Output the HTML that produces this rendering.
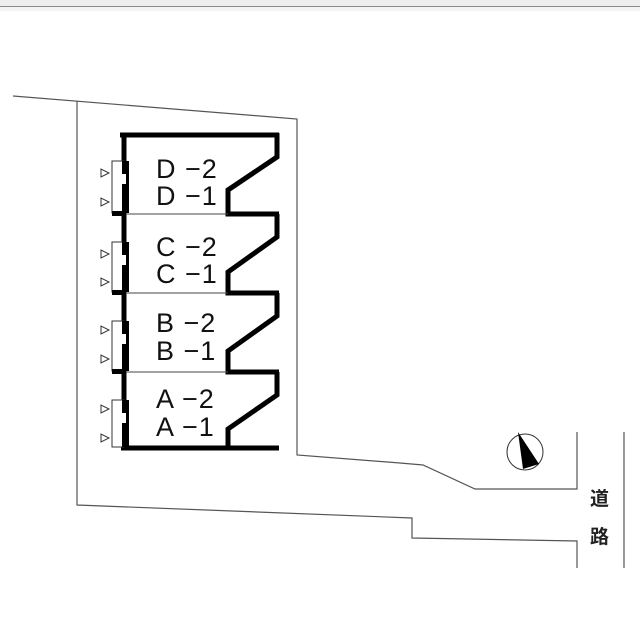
<!DOCTYPE html>
<html><head><meta charset="utf-8"><style>
html,body{margin:0;padding:0;background:#fff;width:640px;height:630px;overflow:hidden}
</style></head><body>
<svg width="640" height="630" viewBox="0 0 640 630" xmlns="http://www.w3.org/2000/svg">
<rect x="0" y="0" width="640" height="6" fill="#eeeeee"/>
<line x1="0" y1="6.5" x2="640" y2="6.5" stroke="#8a8a8a" stroke-width="1"/>
<rect x="0" y="7" width="640" height="4" fill="#f4f4f4"/>
<g fill="none" stroke="#555" stroke-width="1.2">
<polyline points="13,96 297,119 297,455 400,463 423,465 475,489 577,489 577,432"/>
<polyline points="77,101 77,505 412,518 412,538 577,541 577,568"/>
<line x1="624" y1="432" x2="624" y2="568"/>
</g>
<g stroke="#000" fill="none">
<line x1="120" y1="135" x2="279" y2="135" stroke-width="5"/>
<line x1="121" y1="448" x2="279" y2="448" stroke-width="5"/>
<line x1="124" y1="133" x2="124" y2="450" stroke-width="5"/>
</g>
<g stroke="#000" fill="none" stroke-width="5">
<polyline points="277,133 277,157 228,190 228,214 279,214"/>
<polyline points="277,214 277,237 228,272 228,293 279,293"/>
<polyline points="277,293 277,316 228,351 228,372 279,372"/>
<polyline points="277,372 277,395 228,429 228,450"/>
</g>
<g stroke="#444" stroke-width="1">
<line x1="124" y1="214" x2="228" y2="214"/>
<line x1="124" y1="293" x2="228" y2="293"/>
<line x1="124" y1="372" x2="228" y2="372"/>
</g>
<g fill="#fff" stroke="#333" stroke-width="1">
<rect x="112" y="161" width="12" height="52"/>
<rect x="112" y="242" width="12" height="50"/>
<rect x="112" y="321" width="12" height="50"/>
<rect x="112" y="400" width="12" height="47"/>
</g>
<g fill="#000">
<rect x="122" y="161" width="7" height="52"/>
<rect x="122" y="242" width="7" height="50"/>
<rect x="122" y="321" width="7" height="50"/>
<rect x="122" y="400" width="7" height="47"/>
<rect x="112" y="211" width="14" height="5"/>
<rect x="112" y="290" width="14" height="5"/>
<rect x="112" y="369" width="14" height="5"/>
</g>
<g fill="#fff">
<rect x="122" y="174" width="4" height="10"/>
<rect x="122" y="255" width="4" height="10"/>
<rect x="122" y="334" width="4" height="10"/>
<rect x="122" y="413" width="4" height="10"/>
</g>
<g fill="#fff" stroke="#333" stroke-width="1">
<polygon points="101,169 101,177 109,173"/>
<polygon points="101,198 101,206 109,202"/>
<polygon points="101,250 101,258 109,254"/>
<polygon points="101,278 101,286 109,282"/>
<polygon points="101,326 101,334 109,330"/>
<polygon points="101,355 101,363 109,359"/>
<polygon points="101,405 101,413 109,409"/>
<polygon points="101,434 101,442 109,438"/>
</g>
<g font-family="Liberation Sans, sans-serif" font-size="27" fill="#111" letter-spacing="1">
<text x="156" y="178">D −2</text><text x="156" y="205">D −1</text>
<text x="156" y="256">C −2</text><text x="156" y="283">C −1</text>
<text x="156" y="332">B −2</text><text x="156" y="360">B −1</text>
<text x="156" y="408">A −2</text><text x="156" y="436">A −1</text>
</g>
<circle cx="525" cy="452" r="18" fill="none" stroke="#333" stroke-width="1"/>
<polygon points="518,432 539,464 523,469" fill="#000"/>
<g font-family="Liberation Sans, 'Noto Sans CJK JP', sans-serif" font-size="19" font-weight="bold" fill="#222">
<text x="590" y="505">道</text>
<text x="590" y="543">路</text>
</g>
</svg>
</body></html>
